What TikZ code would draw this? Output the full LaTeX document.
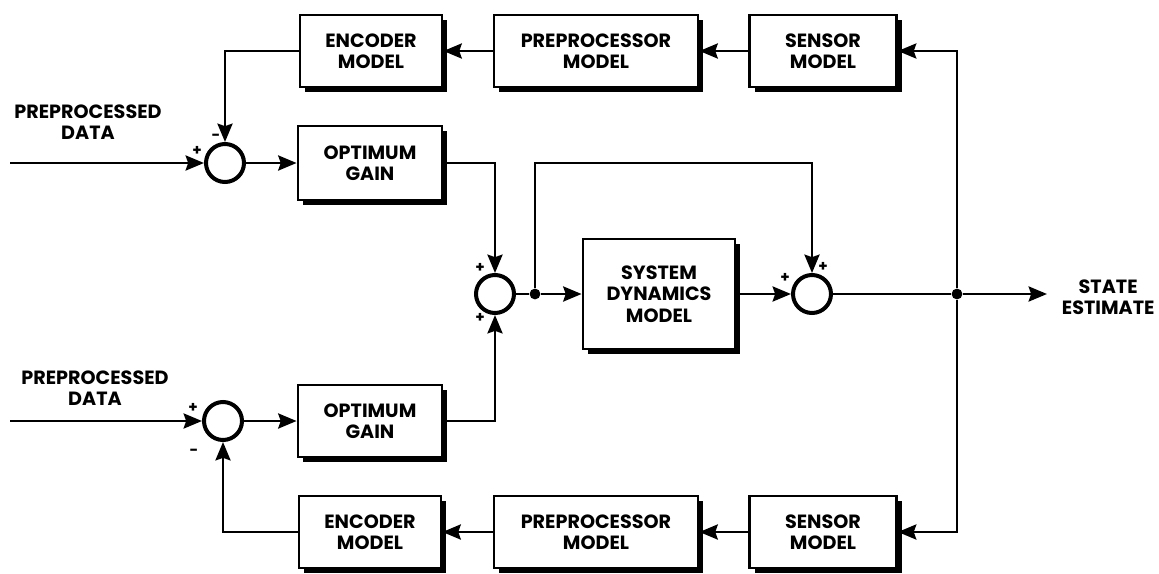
\documentclass[tikz,border=0pt]{standalone}
\usepackage{fontspec}
\setmainfont{Poppins}
\usetikzlibrary{arrows.meta, shadows, calc, positioning}

\tikzset{
  caja/.style={draw, line width=1.7pt, fill=white, align=center, inner sep=2pt,
    drop shadow={shadow xshift=3pt, shadow yshift=-3pt, opacity=1, fill=black},
    font=\bfseries\fontsize{11.5}{12.8}\selectfont},
  suma/.style={draw, circle, line width=2.4pt, minimum size=22.8pt, inner sep=0pt},
  flecha/.style={-{Stealth[length=11pt,width=9pt,inset=1.5pt]}, line width=1.7pt},
  linea/.style={line width=1.7pt},
  punto/.style={circle, fill, inner sep=0pt, minimum size=6.5pt},
  signo/.style={font=\bfseries\fontsize{9}{9}\selectfont, inner sep=0pt},
  rotulo/.style={align=center, font=\bfseries\fontsize{11.5}{12.8}\selectfont},
}

\begin{document}
\begin{tikzpicture}[x=0.6pt, y=-0.6pt]
\useasboundingbox (0,0) rectangle (1159,573);
% Fila de arriba: modelos de realimentacion
\node[caja, minimum width=85.2pt, minimum height=43.2pt] (enc1) at (371,51) {ENCODER\\MODEL};
\node[caja, minimum width=122.4pt, minimum height=43.2pt] (pre1) at (596,51) {PREPROCESSOR\\MODEL};
\node[caja, minimum width=88.2pt, minimum height=43.2pt] (sen1) at (823,51) {SENSOR\\MODEL};
% Rama superior
\node[suma] (sum1) at (225,163) {};
\node[caja, minimum width=86.4pt, minimum height=44.4pt] (gain1) at (370,163) {OPTIMUM\\GAIN};
% Camino central
\node[suma] (sum2) at (495,294) {};
\node[punto] (dot1) at (535,294) {};
\node[caja, minimum width=91.2pt, minimum height=66pt] (sd) at (659,294) {SYSTEM\\DYNAMICS\\MODEL};
\node[suma] (sum3) at (812,294) {};
\node[punto] (dot2) at (957,294) {};
\coordinate (salida) at (1047,294);
\node[rotulo, anchor=west] (est) at (1056,297) {STATE\\ESTIMATE};
% Rama inferior
\node[suma] (sum4) at (223,421) {};
\node[caja, minimum width=86.4pt, minimum height=43.2pt] (gain2) at (370,421) {OPTIMUM\\GAIN};
\node[caja, minimum width=85.2pt, minimum height=43.2pt] (enc2) at (370,532) {ENCODER\\MODEL};
\node[caja, minimum width=122.4pt, minimum height=43.2pt] (pre2) at (596,532) {PREPROCESSOR\\MODEL};
\node[caja, minimum width=88.2pt, minimum height=43.2pt] (sen2) at (823,532) {SENSOR\\MODEL};
% Entradas
\coordinate (in1) at (10,163);
\coordinate (in2) at (10,421);
\node[rotulo] (lab1) at (88,122) {PREPROCESSED\\DATA};
\node[rotulo] (lab2) at (95,388) {PREPROCESSED\\DATA};
\coordinate (byp) at (sum3 |- gain1.east);

% Conexiones
\draw[flecha] (in1) -- (sum1.west);
\draw[flecha] (sum1.east) -- (gain1.west);
\draw[flecha] (enc1.west) -| (sum1.north);
\draw[flecha] (pre1.west) -- (enc1.east);
\draw[flecha] (sen1.west) -- (pre1.east);
\draw[flecha] (gain1.east) -| (sum2.north);
\draw[flecha] (in2) -- (sum4.west);
\draw[flecha] (sum4.east) -- (gain2.west);
\draw[flecha] (enc2.west) -| (sum4.south);
\draw[flecha] (pre2.west) -- (enc2.east);
\draw[flecha] (sen2.west) -- (pre2.east);
\draw[flecha] (gain2.east) -| (sum2.south);
\draw[linea] (sum2.east) -- (dot1);
\draw[flecha] (dot1) -- (sd.west);
\draw[flecha] (dot1) |- (byp) -- (sum3.north);
\draw[flecha] (sd.east) -- (sum3.west);
\draw[linea] (sum3.east) -- (dot2);
\draw[flecha] (dot2) -- (salida);
\draw[flecha] (dot2) |- (sen1.east);
\draw[flecha] (dot2) |- (sen2.east);

% Signos de los sumadores
\node[signo] (s1a) at (197,151) {+};
\node[signo] (s1b) at (216,137) {-};
\node[signo] (s2a) at (480,268) {+};
\node[signo] (s2b) at (480,318) {+};
\node[signo] (s3a) at (785,278) {+};
\node[signo] (s3b) at (823,267) {+};
\node[signo] (s4a) at (193,408) {+};
\node[signo] (s4b) at (194,452) {-};
\end{tikzpicture}
\end{document}
